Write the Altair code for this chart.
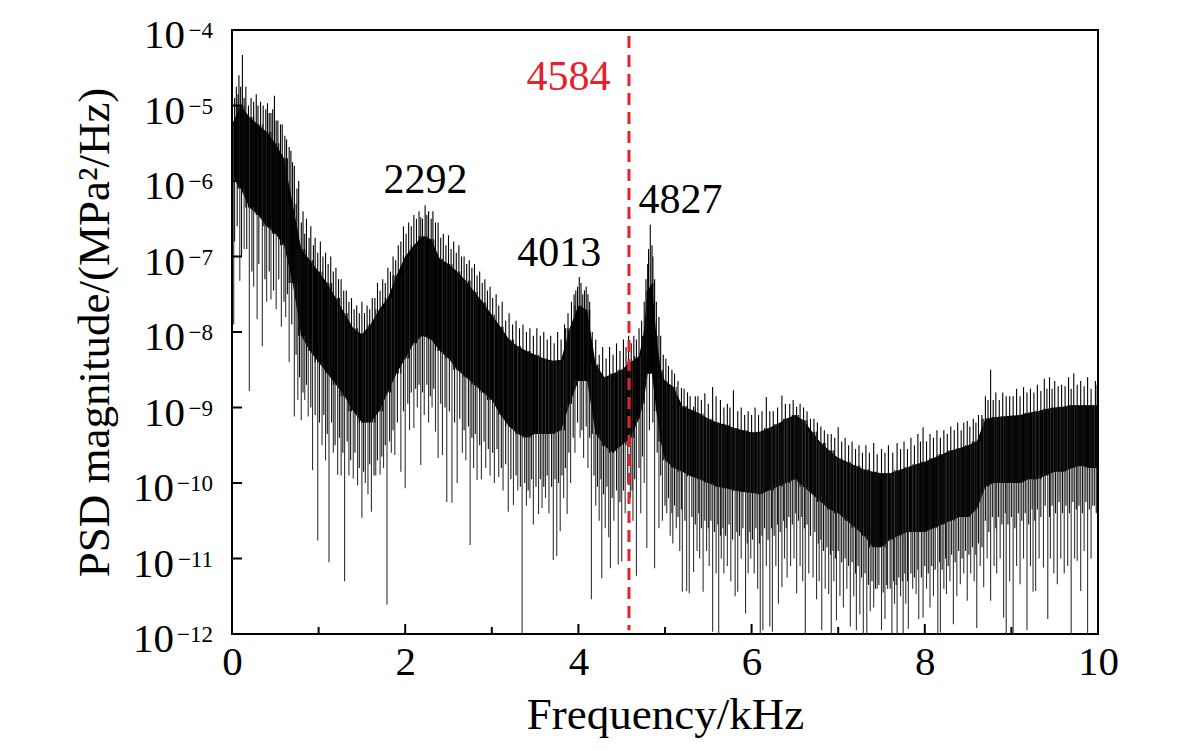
import altair as alt
import numpy as np
import pandas as pd

# ---------------- data (PSD given as log10 exponents) ----------------
band_f = [0.0, 0.1, 0.2, 0.3, 0.4, 0.5, 0.6, 0.7, 0.8, 0.9,
          1.0, 1.1, 1.2, 1.3, 1.4, 1.5, 1.6, 1.7, 1.8, 1.9,
          2.0, 2.1, 2.2, 2.3, 2.4, 2.5, 2.6, 2.7, 2.8, 2.9,
          3.0, 3.1, 3.2, 3.3, 3.4, 3.5, 3.6, 3.7, 3.8, 3.9,
          4.0, 4.1, 4.2, 4.3, 4.4, 4.5, 4.6, 4.7, 4.75, 4.8, 4.85, 4.9, 4.95,
          5.0, 5.1, 5.2, 5.3, 5.4, 5.5, 5.6, 5.7, 5.8, 5.9,
          6.0, 6.1, 6.2, 6.3, 6.4, 6.5, 6.6, 6.7, 6.8, 6.9,
          7.0, 7.1, 7.2, 7.3, 7.4, 7.5, 7.6, 7.7, 7.8, 7.9,
          8.0, 8.1, 8.2, 8.3, 8.4, 8.5, 8.6, 8.7, 8.8, 8.9,
          9.0, 9.1, 9.2, 9.3, 9.4, 9.5, 9.6, 9.7, 9.8, 9.9,
          10.0]

# upper edge of the dense part of the spectrum
band_hi_exp = [-5.25, -5.0, -5.15, -5.25, -5.35, -5.5, -5.7, -6.3, -6.9, -7.05,
               -7.2, -7.35, -7.55, -7.75, -7.95, -8.03, -7.9, -7.7, -7.55, -7.25,
               -7.0, -6.85, -6.73, -6.77, -7.03, -7.1, -7.2, -7.32, -7.47, -7.61,
               -7.77, -7.93, -8.1, -8.19, -8.25, -8.3, -8.35, -8.38, -8.37, -7.95,
               -7.65, -7.71, -8.43, -8.6, -8.55, -8.5, -8.4, -8.32, -8.05, -7.45, -7.35, -8.05, -8.5,
               -8.65, -8.73, -8.98, -9.03, -9.08, -9.15, -9.2, -9.23, -9.27, -9.3,
               -9.33, -9.32, -9.27, -9.22, -9.15, -9.1, -9.17, -9.32, -9.47, -9.57,
               -9.67, -9.72, -9.77, -9.82, -9.85, -9.87, -9.87, -9.83, -9.79, -9.75,
               -9.72, -9.67, -9.62, -9.57, -9.54, -9.5, -9.45, -9.15, -9.13, -9.12,
               -9.11, -9.1, -9.07, -9.05, -9.02, -9.0, -8.99, -8.97, -8.97, -8.97,
               -8.97]

# lower edge of the dense part of the spectrum
band_lo_exp = [-5.95, -6.1, -6.35, -6.45, -6.6, -6.7, -6.85, -7.35, -8.05, -8.25,
               -8.4, -8.55, -8.7, -8.85, -9.05, -9.2, -9.2, -9.05, -8.8, -8.55,
               -8.35, -8.15, -8.05, -8.1, -8.25, -8.35, -8.5, -8.6, -8.7, -8.8,
               -8.9, -9.1, -9.25, -9.35, -9.4, -9.35, -9.35, -9.35, -9.3, -8.95,
               -8.65, -8.65, -9.35, -9.51, -9.6, -9.5, -9.4, -9.15, -8.95, -8.55, -8.55, -9.05, -9.45,
               -9.7, -9.8, -9.85, -9.91, -9.95, -10.0, -10.05, -10.07, -10.1, -10.12,
               -10.13, -10.15, -10.1, -10.05, -10.0, -9.95, -10.05, -10.15, -10.25, -10.35,
               -10.4, -10.5, -10.6, -10.7, -10.85, -10.85, -10.75, -10.7, -10.65, -10.65,
               -10.65, -10.6, -10.55, -10.5, -10.45, -10.45, -10.35, -10.05, -10.0, -10.0,
               -10.0, -10.0, -9.95, -9.95, -9.9, -9.85, -9.85, -9.8, -9.77, -9.8,
               -9.8]

# downward spikes (frequency, lowest exponent)
down_f = [0.02, 0.09, 0.14, 0.20, 0.25, 0.29, 0.35, 0.40, 0.45, 0.51, 0.57, 0.62, 0.66, 0.72, 0.76,
          0.80, 0.84, 0.88, 0.93, 0.99, 1.04, 1.08, 1.12, 1.17, 1.22, 1.26, 1.30, 1.35, 1.40, 1.45,
          1.50, 1.54, 1.57, 1.61, 1.66, 1.71, 1.75, 1.79, 1.84, 1.88, 1.95, 2.00, 2.05, 2.10, 2.14,
          2.18, 2.22, 2.27, 2.31, 2.35, 2.38, 2.43, 2.48, 2.54, 2.60, 2.66, 2.70, 2.75, 2.79, 2.83,
          2.88, 2.93, 2.98, 3.03, 3.08, 3.13, 3.19, 3.25, 3.30, 3.35, 3.40, 3.44, 3.48, 3.54, 3.58,
          3.62, 3.66, 3.71, 3.75, 3.79, 3.83, 3.87, 3.91, 3.96, 4.02, 4.06, 4.11, 4.15, 4.20, 4.24,
          4.27, 4.31, 4.35, 4.37, 4.41, 4.46, 4.50, 4.54, 4.60, 4.63, 4.67, 4.72, 4.76, 4.79, 4.88,
          4.93, 4.97, 5.02, 5.06, 5.09, 5.13, 5.17, 5.20, 5.25, 5.28, 5.33, 5.37, 5.40, 5.44, 5.48,
          5.51, 5.55, 5.59, 5.62, 5.65, 5.68, 5.72, 5.76, 5.81, 5.84, 5.88, 5.93, 5.96, 5.99, 6.03,
          6.07, 6.10, 6.13, 6.17, 6.21, 6.24, 6.28, 6.31, 6.35, 6.38, 6.41, 6.45, 6.49, 6.52, 6.56,
          6.59, 6.62, 6.66, 6.71, 6.75, 6.78, 6.81, 6.85, 6.89, 6.92, 6.95, 6.98, 7.02, 7.06, 7.10,
          7.14, 7.18, 7.21, 7.25, 7.29, 7.33, 7.37, 7.41, 7.45, 7.50, 7.54, 7.57, 7.62, 7.65, 7.68,
          7.72, 7.75, 7.78, 7.81, 7.86, 7.90, 7.93, 7.98, 8.02, 8.06, 8.10, 8.15, 8.18, 8.22, 8.25,
          8.29, 8.33, 8.37, 8.41, 8.45, 8.49, 8.53, 8.57, 8.60, 8.64, 8.68, 8.72, 8.76, 8.80, 8.83,
          8.87, 8.91, 8.94, 8.98, 9.02, 9.06, 9.10, 9.14, 9.18, 9.22, 9.25, 9.28, 9.32, 9.37, 9.42,
          9.45, 9.49, 9.53, 9.57, 9.61, 9.65, 9.69, 9.73, 9.76, 9.80, 9.84, 9.88, 9.92, 9.96]
down_exp = [-7.9, -7.32, -6.9, -8.78, -7.4, -7.83, -8.19, -7.6, -7.57, -7.7, -7.93, -7.8, -8.4, -9.12, -8.9,
            -9.17, -8.9, -9.12, -9.83, -10.76, -9.5, -9.7, -11.05, -9.6, -9.89, -9.9, -11.3, -9.9, -9.94, -10.03,
            -10.46, -10.0, -10.15, -10.38, -9.9, -9.89, -9.8, -11.61, -9.6, -9.63, -9.85, -10.07, -9.3, -9.27, -9.0,
            -9.76, -9.1, -9.2, -9.0, -9.32, -9.67, -9.63, -10.25, -10.26, -10.0, -9.6, -9.7, -10.82, -9.8, -9.96,
            -9.95, -9.8, -9.9, -10.0, -9.92, -10.1, -10.38, -10.29, -10.1, -12.0, -10.3, -10.2, -10.55, -10.41, -10.33,
            -10.2, -10.4, -11.02, -10.97, -10.64, -10.2, -10.41, -10.0, -9.6, -9.4, -9.67, -9.8, -11.54, -10.3, -10.5,
            -11.26, -10.6, -10.72, -11.13, -10.5, -11.08, -11.04, -10.4, -10.2, -10.5, -11.23, -10.4, -10.0, -10.86, -11.13,
            -10.6, -10.5, -10.4, -10.7, -10.8, -10.6, -10.9, -11.44, -11.43, -11.46, -11.18, -10.9, -11.0, -11.44, -10.9,
            -11.1, -11.97, -11.2, -12.0, -11.0, -11.2, -11.1, -11.3, -11.5, -11.44, -11.0, -11.73, -11.2, -11.0, -11.2,
            -11.4, -12.0, -11.95, -11.1, -11.9, -11.97, -11.1, -11.6, -11.38, -11.0, -11.25, -11.1, -11.0, -11.46, -11.1,
            -11.3, -12.0, -11.2, -11.25, -11.54, -11.3, -11.95, -11.4, -11.47, -12.0, -11.3, -11.82, -11.5, -11.65, -11.4,
            -11.9, -11.5, -11.95, -11.74, -12.0, -12.0, -11.7, -11.65, -11.4, -11.95, -11.8, -11.4, -12.0, -11.6, -12.0,
            -11.5, -12.0, -11.6, -11.93, -11.4, -11.47, -11.8, -11.78, -11.4, -11.65, -11.5, -12.0, -11.98, -11.4, -11.47,
            -11.3, -11.87, -11.5, -11.34, -11.2, -11.56, -11.2, -11.3, -11.92, -11.1, -11.38, -11.0, -11.56, -11.1, -11.2,
            -11.0, -11.78, -12.0, -11.3, -12.0, -11.1, -11.34, -11.0, -11.95, -11.1, -11.44, -11.43, -11.0, -11.12, -11.8,
            -11.0, -11.2, -11.34, -11.0, -11.2, -11.1, -12.0, -11.0, -11.03, -11.43, -10.9, -12.0, -11.0, -10.3]

# shorter downward strokes that roughen the lower edge of the dense band
rough_f = [0.03, 0.06, 0.11, 0.17, 0.23, 0.31, 0.38, 0.43, 0.48, 0.54, 0.60, 0.64, 0.69, 0.74, 0.78,
           0.82, 0.86, 0.91, 0.96, 1.01, 1.06, 1.10, 1.15, 1.19, 1.24, 1.28, 1.33, 1.37, 1.42, 1.47,
           1.52, 1.59, 1.64, 1.68, 1.73, 1.77, 1.82, 1.86, 1.91, 1.98, 2.03, 2.07, 2.12, 2.16, 2.20,
           2.25, 2.29, 2.33, 2.41, 2.46, 2.51, 2.57, 2.63, 2.68, 2.73, 2.77, 2.81, 2.86, 2.91, 2.96,
           3.01, 3.06, 3.11, 3.16, 3.22, 3.28, 3.33, 3.38, 3.42, 3.46, 3.51, 3.56, 3.60, 3.64, 3.69,
           3.73, 3.77, 3.81, 3.85, 3.89, 3.94, 3.99, 4.04, 4.09, 4.13, 4.18, 4.22, 4.26, 4.29, 4.33,
           4.39, 4.44, 4.48, 4.52, 4.57, 4.62, 4.65, 4.70, 4.74, 4.82, 4.86, 4.91, 4.95, 5.00, 5.04,
           5.08, 5.11, 5.15, 5.19, 5.23, 5.31, 5.35, 5.39, 5.42, 5.46, 5.50, 5.53, 5.57, 5.61, 5.64,
           5.67, 5.70, 5.74, 5.78, 5.83, 5.86, 5.90, 5.95, 5.98, 6.01, 6.05, 6.09, 6.12, 6.15, 6.19,
           6.23, 6.26, 6.30, 6.33, 6.37, 6.40, 6.43, 6.47, 6.51, 6.54, 6.58, 6.61, 6.64, 6.68, 6.73,
           6.77, 6.80, 6.83, 6.87, 6.91, 6.94, 6.97, 7.00, 7.04, 7.08, 7.12, 7.16, 7.20, 7.23, 7.27,
           7.31, 7.35, 7.39, 7.43, 7.47, 7.52, 7.56, 7.60, 7.64, 7.67, 7.70, 7.74, 7.77, 7.80, 7.84,
           7.88, 7.92, 7.96, 8.00, 8.04, 8.08, 8.12, 8.17, 8.20, 8.24, 8.27, 8.31, 8.35, 8.39, 8.43,
           8.47, 8.51, 8.55, 8.59, 8.62, 8.66, 8.70, 8.74, 8.78, 8.82, 8.85, 8.89, 8.93, 8.96, 9.00,
           9.04, 9.08, 9.12, 9.16, 9.20, 9.24, 9.27, 9.30, 9.34, 9.39, 9.44, 9.47, 9.51, 9.55, 9.59,
           9.63, 9.67, 9.71, 9.75, 9.78, 9.82, 9.86, 9.90, 9.94, 9.98]
rough_exp = [-6.8, -6.6, -7.0, -6.9, -7.2, -7.1, -7.3, -7.2, -7.45, -7.3, -7.6, -7.5, -7.9, -8.3, -8.6,
             -8.8, -8.7, -9.0, -9.1, -9.2, -9.1, -9.35, -9.2, -9.5, -9.4, -9.6, -9.45, -9.7, -9.6, -9.8,
             -9.85, -9.75, -9.9, -9.7, -9.65, -9.5, -9.45, -9.3, -9.2, -9.05, -8.95, -8.8, -8.75, -8.7, -8.8,
             -8.7, -8.85, -8.75, -8.95, -9.0, -9.05, -9.2, -9.15, -9.3, -9.25, -9.4, -9.35, -9.5, -9.45, -9.55,
             -9.6, -9.55, -9.8, -9.75, -9.95, -9.9, -10.05, -10.0, -10.1, -9.95, -10.05, -9.95, -10.05, -9.9, -10.05,
             -9.95, -10.0, -9.9, -9.8, -9.6, -9.4, -9.2, -9.3, -9.25, -9.4, -9.9, -10.05, -9.95, -10.15, -10.05,
             -10.2, -10.1, -10.25, -10.1, -10.0, -10.1, -9.95, -9.8, -9.65, -9.3, -9.2, -9.6, -9.9, -10.3, -10.2,
             -10.4, -10.3, -10.45, -10.35, -10.5, -10.45, -10.55, -10.4, -10.6, -10.5, -10.6, -10.5, -10.65, -10.55, -10.7,
             -10.6, -10.7, -10.55, -10.75, -10.65, -10.7, -10.6, -10.8, -10.65, -10.75, -10.6, -10.8, -10.7, -10.6, -10.75,
             -10.6, -10.7, -10.55, -10.65, -10.5, -10.6, -10.45, -10.55, -10.4, -10.5, -10.45, -10.6, -10.55, -10.7, -10.65,
             -10.8, -10.75, -10.9, -10.85, -10.95, -10.9, -11.0, -10.9, -11.05, -11.0, -11.1, -11.05, -11.2, -11.1, -11.25,
             -11.2, -11.35, -11.3, -11.4, -11.35, -11.45, -11.35, -11.4, -11.3, -11.35, -11.25, -11.3, -11.2, -11.3, -11.2,
             -11.25, -11.15, -11.25, -11.1, -11.2, -11.1, -11.15, -11.05, -11.15, -11.0, -11.1, -10.95, -11.05, -10.9, -11.0,
             -10.9, -10.95, -10.85, -10.95, -10.8, -10.85, -10.5, -10.65, -10.45, -10.6, -10.45, -10.55, -10.4, -10.55, -10.45,
             -10.6, -10.4, -10.5, -10.4, -10.55, -10.35, -10.5, -10.35, -10.45, -10.3, -10.45, -10.3, -10.4, -10.25, -10.4,
             -10.3, -10.4, -10.25, -10.35, -10.3, -10.4, -10.25, -10.35, -10.3, -10.4]

# upward spikes (frequency, highest exponent)
up_f = [0.05, 0.08, 0.12, 0.16, 0.22, 0.28, 0.33, 0.36, 0.41, 0.45, 0.49, 0.53, 0.58, 0.63, 0.68,
        0.72, 0.77, 0.82, 0.86, 0.91, 0.96, 1.02, 1.08, 1.14, 1.20, 1.26, 1.32, 1.38, 1.44, 1.50,
        1.56, 1.62, 1.68, 1.74, 1.80, 1.86, 1.92, 1.98, 2.04, 2.10, 2.16, 2.20, 2.23, 2.27, 2.32,
        2.38, 2.44, 2.50, 2.56, 2.62, 2.68, 2.74, 2.80, 2.86, 2.92, 2.98, 3.05, 3.12, 3.20, 3.28,
        3.36, 3.44, 3.52, 3.60, 3.68, 3.76, 3.84, 3.92, 3.97, 4.01, 4.05, 4.09, 4.13, 4.20, 4.28,
        4.36, 4.44, 4.52, 4.58, 4.64, 4.70, 4.76, 4.80, 4.83, 4.86, 4.90, 4.95,
        5.01, 5.08, 5.15, 5.19, 5.26, 5.33, 5.38, 5.46, 5.55, 5.64, 5.72, 5.79, 5.88, 5.96, 6.04,
        6.12, 6.17, 6.25, 6.35, 6.44, 6.52, 6.60, 6.68, 6.76, 6.84, 6.92, 7.00, 7.08, 7.16, 7.24,
        7.32, 7.41, 7.50, 7.58, 7.68, 7.76, 7.84, 7.92, 7.98, 8.06, 8.14, 8.22, 8.30, 8.38, 8.45,
        8.49, 8.56, 8.62, 8.70, 8.76, 8.82, 8.90, 8.98, 9.06, 9.14, 9.22, 9.30, 9.38, 9.44, 9.50,
        9.58, 9.66, 9.72, 9.80, 9.88, 9.97]
up_exp = [-4.75, -4.6, -4.33, -4.75, -4.9, -4.85, -4.95, -5.0, -4.97, -5.1, -4.87, -5.2, -5.25, -5.45, -5.6,
          -5.8, -6.0, -6.4, -6.5, -6.6, -6.75, -6.8, -6.95, -7.0, -7.15, -7.3, -7.45, -7.55, -7.65, -7.6,
          -7.65, -7.55, -7.35, -7.3, -7.15, -7.0, -6.85, -6.6, -6.55, -6.45, -6.4, -6.5, -6.32, -6.4, -6.4,
          -6.55, -6.7, -6.72, -6.8, -6.85, -7.0, -7.05, -7.1, -7.2, -7.3, -7.4, -7.5, -7.6, -7.75, -7.85,
          -7.9, -7.95, -7.95, -8.0, -8.05, -8.0, -7.9, -7.6, -7.45, -7.27, -7.5, -7.4, -7.6, -8.1, -8.2,
          -8.2, -8.15, -8.1, -8.05, -8.05, -7.95, -7.6, -7.1, -6.58, -7.0, -7.6, -8.05,
          -8.35, -8.5, -8.65, -8.74, -8.8, -8.99, -8.85, -8.81, -8.73, -8.9, -8.95, -8.77, -9.0, -9.05, -9.0,
          -9.05, -8.86, -9.05, -8.84, -8.95, -8.99, -9.0, -9.15, -9.2, -9.3, -9.35, -9.26, -9.4, -9.45, -9.5,
          -9.5, -9.47, -9.55, -9.5, -9.47, -9.45, -9.4, -9.35, -9.26, -9.35, -9.3, -9.3, -9.25, -9.2, -9.2,
          -9.18, -9.15, -9.1, -8.85, -8.5, -8.8, -8.8, -8.85, -8.75, -8.73, -8.75, -8.7, -8.62, -8.6, -8.65,
          -8.7, -8.6, -8.55, -8.65, -8.6, -8.65]

# shorter upward strokes that roughen the upper edge of the dense band
fringe_f = [0.03, 0.07, 0.10, 0.14, 0.19, 0.25, 0.30, 0.39, 0.43, 0.47, 0.51, 0.56, 0.61, 0.66, 0.70,
            0.75, 0.80, 0.84, 0.89, 0.94, 0.99, 1.05, 1.11, 1.17, 1.23, 1.29, 1.35, 1.41, 1.47, 1.53,
            1.59, 1.65, 1.71, 1.77, 1.83, 1.89, 1.95, 2.01, 2.07, 2.13, 2.18, 2.25, 2.30, 2.35, 2.41,
            2.47, 2.53, 2.59, 2.65, 2.71, 2.77, 2.83, 2.89, 2.95, 3.01, 3.08, 3.16, 3.24, 3.32, 3.40,
            3.48, 3.56, 3.64, 3.72, 3.80, 3.88, 3.95, 3.99, 4.03, 4.07, 4.11, 4.16, 4.24, 4.32, 4.40,
            4.48, 4.55, 4.61, 4.67, 4.73, 4.78, 4.81, 4.85, 4.88, 4.93, 4.98, 5.04, 5.11, 5.22, 5.29,
            5.35, 5.42, 5.50, 5.59, 5.68, 5.75, 5.84, 5.92, 6.00, 6.08, 6.21, 6.30, 6.39, 6.48, 6.56,
            6.64, 6.72, 6.80, 6.88, 6.96, 7.04, 7.12, 7.20, 7.28, 7.36, 7.45, 7.54, 7.63, 7.72, 7.80,
            7.88, 7.95, 8.02, 8.10, 8.18, 8.26, 8.34, 8.42, 8.52, 8.59, 8.66, 8.73, 8.79, 8.86, 8.94,
            9.02, 9.10, 9.18, 9.26, 9.34, 9.41, 9.47, 9.54, 9.62, 9.69, 9.76, 9.84, 9.92, 9.99]
fringe_exp = [-4.9, -4.85, -4.75, -4.9, -5.0, -4.95, -5.0, -5.05, -5.1, -5.05, -5.2, -5.25, -5.4, -5.55, -5.75,
              -6.1, -6.55, -6.7, -6.75, -6.85, -6.95, -7.0, -7.1, -7.2, -7.3, -7.45, -7.6, -7.7, -7.75, -7.75,
              -7.7, -7.55, -7.45, -7.35, -7.2, -7.05, -6.8, -6.7, -6.6, -6.5, -6.48, -6.45, -6.5, -6.55, -6.75,
              -6.85, -6.9, -6.95, -7.0, -7.1, -7.15, -7.25, -7.35, -7.45, -7.55, -7.65, -7.85, -7.9, -7.95, -8.0,
              -8.05, -8.05, -8.1, -8.15, -8.1, -7.75, -7.5, -7.4, -7.35, -7.45, -7.5, -8.0, -8.3, -8.35, -8.3,
              -8.25, -8.2, -8.15, -8.1, -7.85, -7.3, -6.9, -6.85, -7.3, -7.8, -8.3, -8.45, -8.55, -8.75, -8.85,
              -8.85, -8.9, -8.95, -8.85, -9.0, -9.0, -9.05, -9.1, -9.1, -9.1, -9.05, -9.0, -8.95, -8.9, -8.95,
              -9.05, -9.15, -9.25, -9.35, -9.4, -9.45, -9.5, -9.55, -9.6, -9.6, -9.62, -9.6, -9.6, -9.55, -9.55,
              -9.5, -9.45, -9.45, -9.4, -9.4, -9.35, -9.3, -9.3, -9.25, -9.2, -9.1, -8.9, -8.9, -8.9, -8.85,
              -8.85, -8.85, -8.8, -8.8, -8.78, -8.75, -8.75, -8.72, -8.72, -8.75, -8.7, -8.72, -8.75, -8.7]

x_major = [0, 2, 4, 6, 8, 10]
x_minor = [1, 3, 5, 7, 9]
y_decade_exp = [-12, -11, -10, -9, -8, -7, -6, -5, -4]
y_label_base = "10"
y_label_exp = ["−12", "−11", "−10", "−9", "−8", "−7", "−6", "−5", "−4"]

marker_f = [4.584]
marker_top_exp = [-4.08]
marker_bot_exp = [-11.95]

peak_text = ["2292", "4013", "4827"]
peak_f = [2.234, 3.78, 5.18]
peak_exp = [-6.16, -7.13, -6.43]
marker_text = ["4584"]
marker_text_f = [3.885]
marker_text_exp = [-4.79]

# ---------------- tables ----------------
band = pd.DataFrame({"f": band_f,
                     "hi": 10.0 ** np.array(band_hi_exp),
                     "lo": 10.0 ** np.array(band_lo_exp)})


def spikes(fs, exps, base_col):
    d = pd.DataFrame({"f": fs, "v": 10.0 ** np.array(exps)}).sort_values("f")
    d = pd.merge_asof(d, band[["f", base_col]], on="f", direction="nearest")
    return d.rename(columns={base_col: "base"})


down = spikes(down_f, down_exp, "hi")
rough = spikes(rough_f, rough_exp, "hi")
up = spikes(up_f, up_exp, "lo")
fringe = spikes(fringe_f, fringe_exp, "lo")

ylab = pd.DataFrame({"v": [10.0 ** e for e in y_decade_exp], "exp": y_label_exp,
                     "base": [y_label_base] * len(y_decade_exp)})
ylab_one = ylab[ylab["exp"].str.len() == 2]
ylab_two = ylab[ylab["exp"].str.len() == 3]
ytick_df = pd.DataFrame({"v": [10.0 ** e for e in y_decade_exp]})
xmaj_df = pd.DataFrame({"f": x_major})
xmin_df = pd.DataFrame({"f": x_minor})
marker_df = pd.DataFrame({"f": marker_f, "v": 10.0 ** np.array(marker_top_exp),
                          "bot": 10.0 ** np.array(marker_bot_exp)})
peaks_df = pd.DataFrame({"f": peak_f, "v": 10.0 ** np.array(peak_exp), "t": peak_text})
mtext_df = pd.DataFrame({"f": marker_text_f, "v": 10.0 ** np.array(marker_text_exp), "t": marker_text})

FONT = "Liberation Serif"
W, H = 866, 604
RED = "#e8202a"

xs = alt.Scale(domain=[0, 10], nice=False, zero=False)
ys = alt.Scale(type="log", domain=[1e-12, 1e-4], nice=False)

x_axis = alt.Axis(values=x_major, format="d", ticks=False, domain=False, grid=False,
                  labelFlush=False, labelPadding=8, title="Frequency/kHz", titlePadding=10)
# y tick labels are drawn as text layers below (base + superscript exponent)
y_axis = alt.Axis(values=[10.0 ** e for e in y_decade_exp],
                  ticks=False, domain=False, grid=False, labels=False,
                  title="PSD magnitude/(MPa²/Hz)", titlePadding=115)

X = alt.X("f:Q", scale=xs, axis=x_axis)


def Y(field):
    return alt.Y(field, type="quantitative", scale=ys, axis=y_axis)


band_layer = alt.Chart(band).mark_area(color="black", opacity=1, strokeWidth=0).encode(
    x=X, y=Y("hi"), y2="lo:Q")

rough_layer = alt.Chart(rough).mark_rule(color="#111111", strokeWidth=1.1).encode(
    x=X, y=Y("v"), y2="base:Q")
down_layer = alt.Chart(down).mark_rule(color="#333333", strokeWidth=1.1).encode(
    x=X, y=Y("v"), y2="base:Q")
fringe_layer = alt.Chart(fringe).mark_rule(color="black", strokeWidth=1.1).encode(
    x=X, y=Y("v"), y2="base:Q")
up_layer = alt.Chart(up).mark_rule(color="black", strokeWidth=1.1).encode(
    x=X, y=Y("v"), y2="base:Q")

marker_layer = alt.Chart(marker_df).mark_rule(color=RED, strokeWidth=3, strokeDash=[12, 7]).encode(
    x=X, y=Y("v"), y2="bot:Q")

ytick_layer = alt.Chart(ytick_df).mark_rule(color="black", strokeWidth=2).encode(
    y=Y("v"), x=alt.value(0), x2=alt.value(10))
xmaj_layer = alt.Chart(xmaj_df).mark_rule(color="black", strokeWidth=2).encode(
    x=X, y=alt.value(H), y2=alt.value(H - 10))
xmin_layer = alt.Chart(xmin_df).mark_rule(color="black", strokeWidth=2).encode(
    x=X, y=alt.value(H), y2=alt.value(H - 7))

ylab_exp_layer = alt.Chart(ylab).mark_text(font=FONT, fontSize=23, color="black", align="right",
                                           baseline="alphabetic", dy=8).encode(
    y=Y("v"), x=alt.value(-19), text="exp:N")
ylab_one_layer = alt.Chart(ylab_one).mark_text(font=FONT, fontSize=41, color="black", align="right",
                                               baseline="alphabetic", dy=18).encode(
    y=Y("v"), x=alt.value(-47), text="base:N")
ylab_two_layer = alt.Chart(ylab_two).mark_text(font=FONT, fontSize=41, color="black", align="right",
                                               baseline="alphabetic", dy=18).encode(
    y=Y("v"), x=alt.value(-58), text="base:N")

peaks_layer = alt.Chart(peaks_df).mark_text(font=FONT, fontSize=42, color="black",
                                            align="center", baseline="alphabetic").encode(
    x=X, y=Y("v"), text="t:N")
mtext_layer = alt.Chart(mtext_df).mark_text(font=FONT, fontSize=42, color=RED,
                                            align="center", baseline="alphabetic").encode(
    x=X, y=Y("v"), text="t:N")

chart = alt.layer(
    band_layer, rough_layer, down_layer, fringe_layer, up_layer,
    ytick_layer, xmaj_layer, xmin_layer,
    marker_layer, peaks_layer, mtext_layer,
    ylab_exp_layer, ylab_one_layer, ylab_two_layer,
).properties(
    width=W, height=H,
    autosize=alt.AutoSizeParams(type="none"),
    padding={"left": 224, "top": 22, "right": 75, "bottom": 108},
    background="white",
).configure_view(
    stroke="black", strokeWidth=2,
).configure_axis(
    labelFont=FONT, labelFontSize=41, labelColor="black",
    titleFont=FONT, titleFontSize=45, titleFontWeight="normal", titleColor="black",
)

chart.save("out.html", embed_options={"renderer": "svg", "actions": False})
